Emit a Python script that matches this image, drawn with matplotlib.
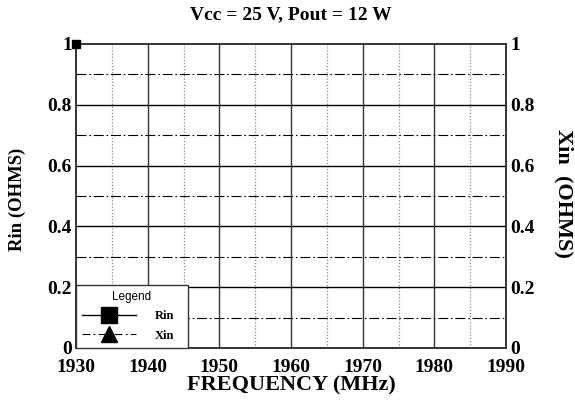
import numpy as np
import matplotlib
matplotlib.use('Agg')
import matplotlib.pyplot as plt
from matplotlib.lines import Line2D

# data
freq_rin = [1930]
rin = [1.0]
freq_xin = []
xin = []

xticks = [1930, 1940, 1950, 1960, 1970, 1980, 1990]
yticks = [0, 0.2, 0.4, 0.6, 0.8, 1]
ylabels = ['0', '0.2', '0.4', '0.6', '0.8', '1']

serif = 'Liberation Serif'
tickfont = dict(fontfamily=serif, fontweight='bold', fontsize=14)

fig = plt.figure(figsize=(5.75, 4.08), dpi=100)
ax = fig.add_axes([76/575, 60/408, 430/575, 304/408])

ax.set_xlim(1930, 1990)
ax.set_ylim(0, 1)

# grid: solid majors, dotted vertical minors, dash-dot horizontal minors
for x in range(1940, 1990, 10):
    ax.axvline(x, color='#333333', lw=1.0, zorder=1)
for x in range(1935, 1990, 10):
    ax.axvline(x, color='#888888', lw=0.9, ls=(0, (1, 1.5)), zorder=1)
for y in [0.2, 0.4, 0.6, 0.8]:
    ax.axhline(y, color='black', lw=1.0, zorder=1)
for y in [0.1, 0.3, 0.5, 0.7, 0.9]:
    ax.axhline(y, color='black', lw=0.8, ls=(0, (9, 2.5, 1.5, 2.5)), zorder=1)

ax.plot(freq_rin, rin, color='black', lw=1, marker='s', ms=6, clip_on=False, zorder=5)
ax.plot(freq_xin, xin, color='black', lw=1, ls='-.', marker='^', ms=7, clip_on=False, zorder=5)

for s in ax.spines.values():
    s.set_linewidth(1.4)
    s.set_color('#333333')

ax.set_xticks(xticks)
ax.set_xticklabels([str(t) for t in xticks], **tickfont)
ax.set_yticks(yticks)
ax.set_yticklabels(ylabels, **tickfont)
ax.tick_params(axis='x', length=0, pad=8)
ax.tick_params(axis='y', length=0, pad=3)

ax2 = ax.twinx()
ax2.set_ylim(0, 1)
ax2.set_yticks(yticks)
ax2.set_yticklabels(ylabels, **tickfont)
ax2.tick_params(length=0, pad=3)
for s in ax2.spines.values():
    s.set_visible(False)

ax.set_xlabel('FREQUENCY (MHz)', fontfamily=serif, fontweight='bold', fontsize=16)
ax.xaxis.set_label_coords(0.5, (348 - 385) / 304)
ax.xaxis.label.set_va('center')

ax.set_ylabel('Rin (OHMS)', fontfamily=serif, fontweight='bold', fontsize=13.5)
ax.yaxis.set_label_coords((17 - 76) / 430, (348 - 199) / 304)
ax.yaxis.label.set_va('center')
ax.yaxis.label.set_ha('center')

ax2.set_ylabel('Xin  (OHMS)', rotation=-90, fontfamily=serif, fontweight='bold', fontsize=16)
ax2.yaxis.set_label_coords((564 - 76) / 430, (348 - 193) / 304)
ax2.yaxis.label.set_va('center')
ax2.yaxis.label.set_ha('center')

fig.text(0.5 * (76 + 506) / 575, 1 - 15 / 408, 'Vcc = 25 V, Pout = 12 W',
         fontfamily=serif, fontweight='bold', fontsize=14, ha='center', va='center')

handles = [Line2D([], [], color='black', lw=1, marker='s', ms=12),
           Line2D([], [], color='black', lw=0.8, ls=(0, (7, 3, 1.5, 3)), marker='^', ms=12)]
leg = ax.legend(handles, ['Rin', 'Xin'], title='Legend', loc='lower left',
                bbox_to_anchor=(0, 0, 112/430, 72/304), mode='expand',
                borderaxespad=0, fancybox=False,
                framealpha=1, edgecolor='#333333', handlelength=4.3,
                prop={'family': serif, 'weight': 'bold', 'size': 9},
                title_fontproperties={'family': 'Liberation Sans', 'size': 8.5},
                borderpad=0.5, labelspacing=0.6, handletextpad=1.5)
leg.get_frame().set_linewidth(1.0)
leg.set_zorder(10)

fig.savefig('out.png', dpi=100)
